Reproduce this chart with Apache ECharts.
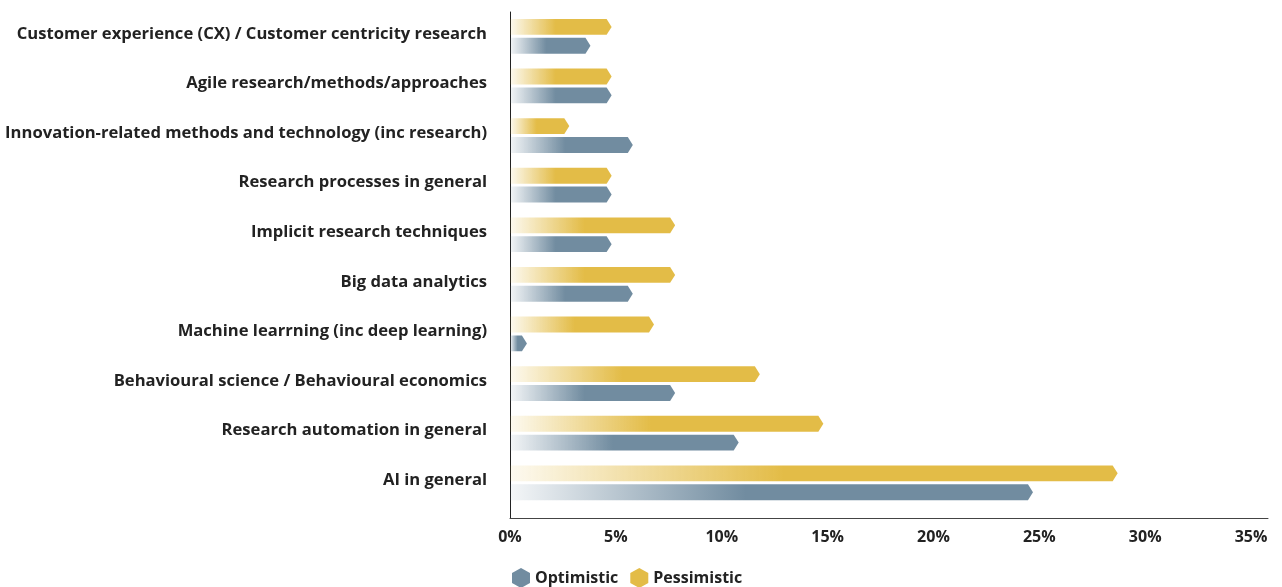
<!DOCTYPE html>
<html>
<head>
<meta charset="utf-8">
<script src="https://cdn.jsdelivr.net/npm/echarts@6/dist/echarts.min.js"></script>
<style>
  html, body { margin: 0; padding: 0; background: #fff; }
  #chart { width: 1282px; height: 587px; }
</style>
</head>
<body>
<div id="chart"></div>
<script>
  // categories top to bottom
  var categories = [
    'Customer experience (CX) / Customer centricity research',
    'Agile research/methods/approaches',
    'Innovation-related methods and technology (inc research)',
    'Research processes in general',
    'Implicit research techniques',
    'Big data analytics',
    'Machine learrning (inc deep learning)',
    'Behavioural science / Behavioural economics',
    'Research automation in general',
    'AI in general'
  ];
  var optimistic  = [3.8, 4.8, 5.8, 4.8, 4.8, 5.8, 0.8, 7.8, 10.8, 24.7];
  var pessimistic = [4.8, 4.8, 2.8, 4.8, 7.8, 7.8, 6.8, 11.8, 14.8, 28.7];
  var xTicks = [0, 5, 10, 15, 20, 25, 30, 35];

  var colors = { opt: '#718ca0', pes: '#e3bc47' };
  var labelFont = '"Open Sans", sans-serif';

  function rgba(hex, a) {
    var n = parseInt(hex.slice(1), 16);
    return 'rgba(' + (n >> 16) + ',' + ((n >> 8) & 255) + ',' + (n & 255) + ',' + a + ')';
  }

  // bar with a pointed right end, light->solid gradient
  function makeRender(color, upper) {
    return function (params, api) {
      var val = api.value(0), row = api.value(1) + 0.5;
      var s = api.coord([0, row]);
      var e = api.coord([val, row]);
      var band = api.size([0, 1])[1];
      var h = band * 0.32;
      var top = upper ? s[1] - band * 0.36 : s[1] + band * 0.02;
      var bottom = top + h;
      var tip = Math.min(5, e[0] - s[0]);
      return {
        type: 'polygon',
        shape: {
          points: [
            [s[0], top], [e[0] - tip, top], [e[0], (top + bottom) / 2],
            [e[0] - tip, bottom], [s[0], bottom]
          ]
        },
        style: {
          fill: {
            type: 'linear', x: 0, y: 0, x2: 1, y2: 0,
            colorStops: [
              { offset: 0, color: rgba(color, 0.08) },
              { offset: 0.45, color: color },
              { offset: 1, color: color }
            ]
          }
        }
      };
    };
  }

  function rows(values) {
    return values.map(function (v, i) { return [v, i]; });
  }

  var hexIcon = 'path://M10,0 L19,5 L19,15 L10,20 L1,15 L1,5 Z';

  var chart = echarts.init(document.getElementById('chart'));
  chart.setOption({
    animation: false,
    legend: {
      left: 507,
      top: 563,
      itemWidth: 18,
      itemHeight: 20,
      itemGap: 12,
      textStyle: { fontFamily: labelFont, fontWeight: 'bold', fontSize: 16, color: '#222' },
      data: [
        { name: 'Optimistic', icon: hexIcon, itemStyle: { color: colors.opt } },
        { name: 'Pessimistic', icon: hexIcon, itemStyle: { color: colors.pes } }
      ]
    },
    grid: { left: 510, top: 12, width: 758, height: 506 },
    xAxis: {
      type: 'value',
      min: 0,
      max: 35.8,
      interval: 5,
      splitLine: { show: false },
      axisTick: { show: false },
      axisLine: { show: true, onZero: false, lineStyle: { color: '#444', width: 1 } },
      axisLabel: {
        margin: 11,
        showMaxLabel: false,
        fontFamily: labelFont, fontWeight: 'bold', fontSize: 16, color: '#222',
        formatter: function (v) { return xTicks.indexOf(v) >= 0 ? v + '%' : ''; }
      }
    },
    yAxis: {
      type: 'value',
      inverse: true,
      min: 0,
      max: 10.2,
      interval: 0.5,
      splitLine: { show: false },
      axisTick: { show: false },
      axisLine: { show: true, onZero: false, lineStyle: { color: '#222', width: 1 } },
      axisLabel: {
        margin: 23,
        showMaxLabel: false,
        verticalAlign: 'bottom',
        lineHeight: 6,
        fontFamily: labelFont, fontWeight: 'bold', fontSize: 16.6, color: '#222',
        formatter: function (v) {
          var i = v - 0.5;
          return (i >= 0 && Math.abs(i - Math.round(i)) < 1e-6) ? categories[Math.round(i)] : '';
        }
      }
    },
    series: [
      {
        name: 'Optimistic',
        type: 'custom',
        itemStyle: { color: colors.opt },
        renderItem: makeRender(colors.opt, false),
        encode: { x: 0, y: 1 },
        data: rows(optimistic)
      },
      {
        name: 'Pessimistic',
        type: 'custom',
        itemStyle: { color: colors.pes },
        renderItem: makeRender(colors.pes, true),
        encode: { x: 0, y: 1 },
        data: rows(pessimistic)
      }
    ]
  });
</script>
</body>
</html>
